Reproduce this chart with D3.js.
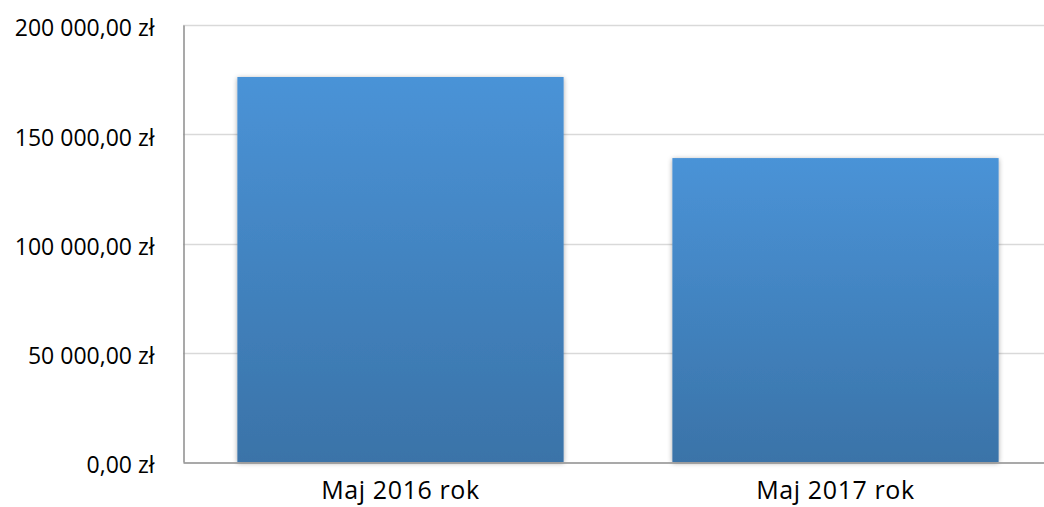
<!DOCTYPE html>
<html>
<head>
<meta charset="utf-8">
<script src="https://cdn.jsdelivr.net/npm/d3@7"></script>
<style>
  body { margin: 0; background: #fff; }
  text { font-family: "Open Sans", "Noto Sans", sans-serif; fill: #000; }
</style>
</head>
<body>
<div id="chart"></div>
<script>
// data
var categories = ['Maj 2016 rok', 'Maj 2017 rok'];
var values = [176200, 139100];
var yTicks = [0, 50000, 100000, 150000, 200000];

var width = 1044, height = 507;
var margin = { top: 25, bottom: 45, left: 183 };
var plotRight = 1053; // plot area runs a bit past the window edge

var svg = d3.select('#chart').append('svg')
  .attr('width', width)
  .attr('height', height);

var defs = svg.append('defs');
var grad = defs.append('linearGradient')
  .attr('id', 'barGrad')
  .attr('x1', 0).attr('y1', 0).attr('x2', 0).attr('y2', 1);
grad.append('stop').attr('offset', '0%').attr('stop-color', '#4a93d7');
grad.append('stop').attr('offset', '100%').attr('stop-color', '#3a73a8');

var shadow = defs.append('filter').attr('id', 'shadow')
  .attr('x', '-5%').attr('y', '-5%').attr('width', '110%').attr('height', '110%');
shadow.append('feDropShadow')
  .attr('dx', 0).attr('dy', 1).attr('stdDeviation', 2.5)
  .attr('flood-color', '#000').attr('flood-opacity', 0.35);

var x = d3.scaleBand()
  .domain(categories)
  .range([margin.left, plotRight])
  .paddingInner(0.25)
  .paddingOuter(0.125);

var y = d3.scaleLinear()
  .domain([0, 200000])
  .range([height - margin.bottom, margin.top]);

var fmt = function (v) {
  var s = d3.format(',.2f')(v);
  return s.replace(/,/g, ' ').replace('.', ',') + ' zł';
};

// grid
svg.append('g').selectAll('line').data(yTicks.slice(1)).enter().append('line')
  .attr('x1', margin.left).attr('x2', plotRight)
  .attr('y1', function (d) { return Math.round(y(d)) + 0.5; })
  .attr('y2', function (d) { return Math.round(y(d)) + 0.5; })
  .attr('stroke', '#d9d9d9').attr('stroke-width', 1.5);

// y axis
var yAxis = svg.append('g')
  .attr('transform', 'translate(' + (margin.left + 0.5) + ',0)')
  .call(d3.axisLeft(y).tickValues(yTicks).tickFormat(fmt).tickSize(0).tickPadding(29));
yAxis.select('.domain').attr('stroke', '#8c8c8c').attr('stroke-width', 1.5);
yAxis.selectAll('text').style('font-size', '23px').attr('dy', '0.47em');

// bars
svg.append('g').selectAll('rect').data(values).enter().append('rect')
  .attr('x', function (d, i) { return x(categories[i]); })
  .attr('width', x.bandwidth())
  .attr('y', function (d) { return y(d); })
  .attr('height', function (d) { return y(0) - y(d); })
  .attr('fill', 'url(#barGrad)')
  .attr('filter', 'url(#shadow)');

// x axis
var xAxis = svg.append('g')
  .attr('transform', 'translate(0,' + (y(0) + 0.5) + ')')
  .call(d3.axisBottom(x).tickSize(0).tickPadding(19));
xAxis.select('.domain').attr('stroke', '#8c8c8c').attr('stroke-width', 1.5);
xAxis.selectAll('text').style('font-size', '25px').style('letter-spacing', '0.6px');
</script>
</body>
</html>
